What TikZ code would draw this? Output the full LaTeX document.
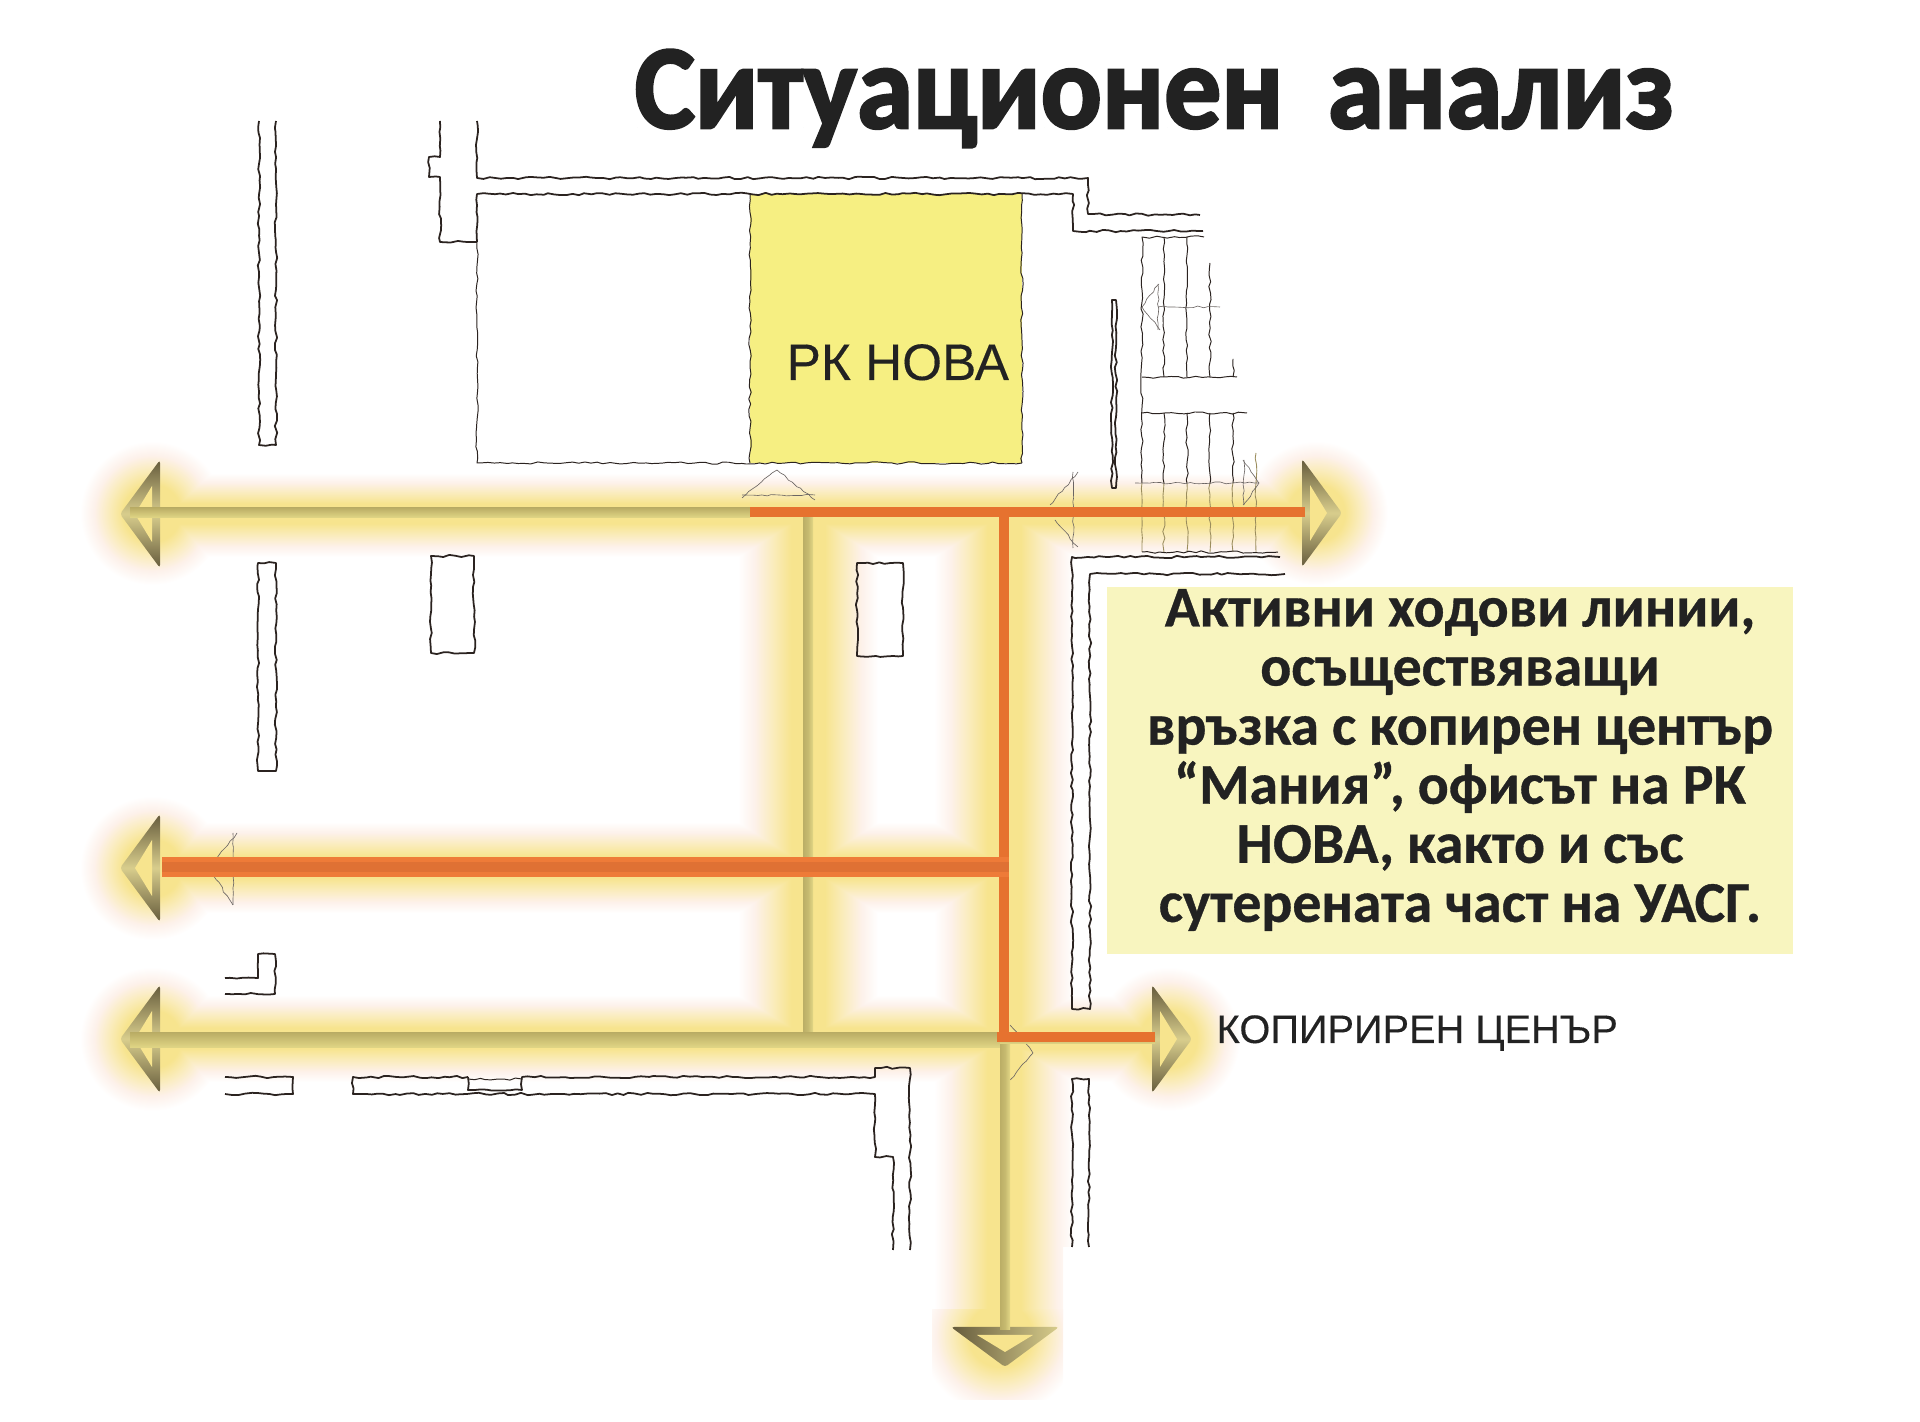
\documentclass[tikz,border=0pt]{standalone}
\usepackage{fontspec}
\setmainfont{Liberation Sans}
\newfontfamily\titlefont[FakeStretch=.953,FakeBold=2.2]{Carlito Bold}
\newfontfamily\notefont[FakeBold=.6]{Carlito Bold}
\newfontfamily\labelfont[FakeBold=.25]{Liberation Sans}
\usetikzlibrary{calc,decorations.pathmorphing}
\definecolor{glowY}{HTML}{F7E48E}
\definecolor{glowM}{HTML}{FAECBC}
\definecolor{glowP}{HTML}{FDF1EA}
\definecolor{roomY}{HTML}{F6EF82}
\definecolor{noteY}{HTML}{F8F5BF}
\definecolor{routeO}{HTML}{E6722F}
\definecolor{routeL}{HTML}{EE7B38}
\definecolor{routeM}{HTML}{DF7134}
\definecolor{stemD}{HTML}{BBAE66}
\definecolor{stemL}{HTML}{E2D786}
\definecolor{headD}{HTML}{655B3C}
\definecolor{headL}{HTML}{D8CD8C}
\definecolor{wallK}{HTML}{2B2320}
\definecolor{inkK}{HTML}{222222}
\pgfdeclareradialshading{glowdisc}{\pgfpointorigin}{color(0bp)=(glowY); color(10bp)=(glowY); color(15bp)=(glowM); color(20bp)=(glowP); color(25bp)=(white); color(50bp)=(white)}
\pgfdeclareverticalshading{glowband}{100bp}{color(0bp)=(glowY); color(25bp)=(glowY); color(37bp)=(glowY); color(50bp)=(glowM); color(63bp)=(glowP); color(75bp)=(white); color(100bp)=(white)}
\tikzset{
  wall/.style={draw=wallK, line width=.5pt, line join=round, decorate,
    decoration={random steps, segment length=.06cm, amplitude=.012cm}},
  thinwall/.style={wall, line width=.28pt},
  faintwall/.style={wall, draw=wallK!45!glowY, line width=.25pt},
  doorline/.style={draw=wallK!70, line width=.18pt, decorate,
    decoration={random steps, segment length=.05cm, amplitude=.01cm}},
  route/.style={draw=routeO, line width=10*0.2845pt, line cap=butt},
  glowup/.style={shading=glowband, shading angle=0},
  glowdown/.style={shading=glowband, shading angle=180},
  glowleft/.style={shading=glowband, shading angle=90},
  glowright/.style={shading=glowband, shading angle=270},
  stemh/.style={top color=stemD, bottom color=stemL},
  stemv/.style={left color=stemD, right color=stemL, middle color=stemD!70!stemL},
  headfill/.style={top color=headD, bottom color=headD, middle color=headL},
  headtip/.pic={
    \path[headfill, line join=round, rounded corners=.03cm] (0,-54) -- (40,0) -- (0,54) -- cycle;
    \fill[glowY] (8,-28) -- (25,0) -- (8,28) -- cycle;
  },
  heading/.style={font=\titlefont\fontsize{34}{40}\selectfont, text=inkK, inner sep=0pt},
  notetxt/.style={font=\notefont\fontsize{16.4}{16.8}\selectfont, text=inkK, align=center, inner sep=0pt},
  caption/.style={text=inkK, inner sep=0pt}
}
\pgfmathsetseed{7}
\begin{document}
\begin{tikzpicture}[x=.01cm, y=-.01cm]
  \useasboundingbox (0,0) rectangle (1920,1422);
  % route points
  \coordinate (topL) at (130,513);
  \coordinate (topM) at (750,512);
  \coordinate (topE) at (1305,512);
  \coordinate (topJb) at (1004,507);
  \coordinate (midS) at (162,867);
  \coordinate (midJ) at (1009,867);
  \coordinate (lowL) at (130,1038);
  \coordinate (lowJb) at (1004,1042);
  \coordinate (lowE) at (1155,1037);

  % glow
  \begin{scope}[blend mode=darken]
    \shade[glowup] (130,473) rectangle (1305,513);
    \shade[glowdown] (130,513) rectangle (1305,557);
    \shade[glowup] (130,822) rectangle (1004,867);
    \shade[glowdown] (130,867) rectangle (1004,913);
    \shade[glowup] (130,995) rectangle (1155,1038);
    \shade[glowdown] (130,1038) rectangle (1155,1082);
    \shade[glowleft] (738,513) rectangle (808,1038);
    \shade[glowright] (808,513) rectangle (878,1038);
    \shade[glowleft] (934,513) rectangle (1004,1247);
    \shade[glowright] (1004,513) rectangle (1074,1247);
    \shade[glowleft] (934,1247) rectangle (1004,1320);
    \begin{scope}
      \clip (1004,1247) rectangle (1063,1320);
      \shade[glowright] (1004,1247) rectangle (1074,1320);
    \end{scope}
    \shade[shading=glowdisc] (152,513) circle (72);
    \shade[shading=glowdisc] (152,868) circle (72);
    \shade[shading=glowdisc] (152,1039) circle (72);
    \shade[shading=glowdisc] (1316,513) circle (72);
    \shade[shading=glowdisc] (1168,1039) circle (72);
    \begin{scope}
      \clip (932,1310) rectangle (1063,1400);
      \shade[shading=glowdisc] (1000,1335) circle (80);
    \end{scope}
  \end{scope}

  % room
  \node (novaroom) [fill=roomY, minimum width=2.72cm, minimum height=2.69cm, inner sep=0pt] at (886,328.5) {};
  \draw[thinwall] (750,194) -- (750,463);
  \draw[thinwall] (1022,194) -- (1022,463);

  % walls, left and top
  \draw[wall] (259,121) -- (259,445) -- (276,445) -- (276,121);
  \draw[wall] (258,563) -- (276,563) -- (276,771) -- (258,771) -- cycle;
  \draw[wall] (440,121) -- (440,157) -- (429,157) -- (429,177) -- (440,177) -- (440,242) -- (477,242);
  \draw[wall] (477,121) -- (477,178) -- (1088,178) -- (1088,214) -- (1200,215);
  \draw[wall] (477,242) -- (477,194) -- (1073,194) -- (1073,231) -- (1203,231);
  \draw[thinwall] (477,242) -- (477,463) -- (1022,463);
  \draw[wall] (431,556) rectangle (474,653);
  \draw[wall] (857,563) rectangle (903,656);
  \draw[wall] (1112,300) rectangle (1116,488);

  % walls, right
  \draw[wall] (1280,557) -- (1072,557) -- (1072,1009) -- (1090,1009) -- (1090,574) -- (1285,574);
  \draw[wall] (1072,1247) -- (1072,1079) -- (1089,1079) -- (1089,1247);

  % walls, bottom
  \draw[wall] (225,978) -- (258,978) -- (258,954) -- (275,954) -- (275,994) -- (225,994);
  \draw[wall] (225,1077) -- (293,1077) -- (293,1094) -- (225,1094);
  \draw[wall] (468,1077) -- (353,1077) -- (353,1094) -- (875,1094) -- (875,1157) -- (893,1157) -- (893,1250);
  \draw[wall] (468,1077) -- (468,1090) -- (522,1090) -- (522,1077) -- (875,1077) -- (875,1068) -- (910,1068) -- (910,1250);
  \draw[thinwall] (468,1079) -- (522,1079);

  % stairs
  \draw[thinwall] (1204,237) -- (1142,237) -- (1142,483);
  \draw[thinwall] (1164,237) -- (1164,377);
  \draw[thinwall] (1187,237) -- (1187,377);
  \draw[thinwall] (1210,263) -- (1210,377);
  \draw[thinwall] (1233,359) -- (1233,377);
  \draw[thinwall] (1142,377) -- (1237,377);
  \draw[thinwall] (1142,413) -- (1247,413);
  \draw[thinwall] (1164,413) -- (1164,483);
  \draw[thinwall] (1187,413) -- (1187,483);
  \draw[thinwall] (1210,413) -- (1210,483);
  \draw[thinwall] (1233,413) -- (1233,483);
  \draw[faintwall] (1142,483) -- (1142,552);
  \draw[faintwall] (1164,483) -- (1164,552);
  \draw[faintwall] (1187,483) -- (1187,552);
  \draw[faintwall] (1210,483) -- (1210,552);
  \draw[faintwall] (1233,483) -- (1233,552);
  \draw[faintwall] (1256,453) -- (1256,552);
  \draw[thinwall] (1142,552) -- (1278,552);
  \draw[doorline] (1135,483) -- (1258,483);

  % door marks
  \draw[doorline] (1159,284) -- (1142,307) -- (1160,330);
  \draw[doorline] (1158,284) -- (1158,330);
  \draw[doorline] (1158,307) -- (1220,307);
  \draw[doorline] (1243,460) -- (1259,483) -- (1243,505);
  \draw[doorline] (1244,460) -- (1244,505);
  \draw[doorline] (742,498) -- (777,470) -- (815,500);
  \draw[doorline] (742,495) -- (815,495);
  \draw[doorline] (1078,472) -- (1050,505);
  \draw[doorline] (1073,472) -- (1073,548);
  \draw[doorline] (1055,520) -- (1078,547);
  \draw[doorline] (237,833) -- (215,860);
  \draw[doorline] (233,833) -- (233,905);
  \draw[doorline] (213,875) -- (233,905);
  \draw[doorline] (1010,1025) -- (1033,1053) -- (1010,1080);

  % arrow heads
  \pic[rotate=180] (headA) at (160,514) {headtip};
  \pic[rotate=180] (headB) at (160,868) {headtip};
  \pic[rotate=180] (headC) at (160,1039) {headtip};
  \pic (headD) at (1302,513) {headtip};
  \pic (headE) at (1152,1039) {headtip};
  \pic[rotate=-90, headfill/.style={left color=headD, right color=headL}] (headF) at (1005,1327) {headtip};

  % stems
  \shade[stemh] ($(topL)+(0,-5)$) rectangle ($(topM)+(0,6)$);
  \shade[stemv] (803,517) rectangle (813,1033);
  \shade[stemh] ($(lowL)+(0,-5)$) rectangle ($(lowJb)+(0,6)$);
  \shade[stemv] (1000,1042) rectangle (1010,1330);
  \shade[stemh] (1000,1037) rectangle (1155,1044);

  % active routes
  \draw[route] (topM) -- (topE);
  \draw[route] (topJb) -- (lowJb);
  \draw[route] ($(lowJb)+(-7,-5)$) -- (lowE);
  \draw[route, draw=routeL, line width=20*0.2845pt] (midS) -- (midJ);
  \draw[draw=routeM, line width=10*0.2845pt] (midS) -- (midJ);

  % texts
  \node (title) [heading, anchor=base west] at (634,128) {Ситуационен\hspace{.155em} анализ};
  \node (novalabel) [caption, font=\labelfont\fontsize{14.6}{16}\selectfont, anchor=base west] at (786,380) {РК НОВА};
  \node (copylabel) [caption, font=\labelfont\fontsize{11.3}{12}\selectfont, anchor=base west] at (1216,1043) {КОПИРИРЕН ЦЕНЪР};
  \node (notebox) [fill=noteY, minimum width=6.86cm, minimum height=3.67cm, inner sep=0pt] at (1450,770.5) {};
  \node (notetext) [notetxt] at (1460,760) {Активни ходови линии,\\осъществяващи\\връзка с копирен център\\“Мания”, офисът на РК\\НОВА, както и със\\сутерената част на УАСГ.};
\end{tikzpicture}
\end{document}
